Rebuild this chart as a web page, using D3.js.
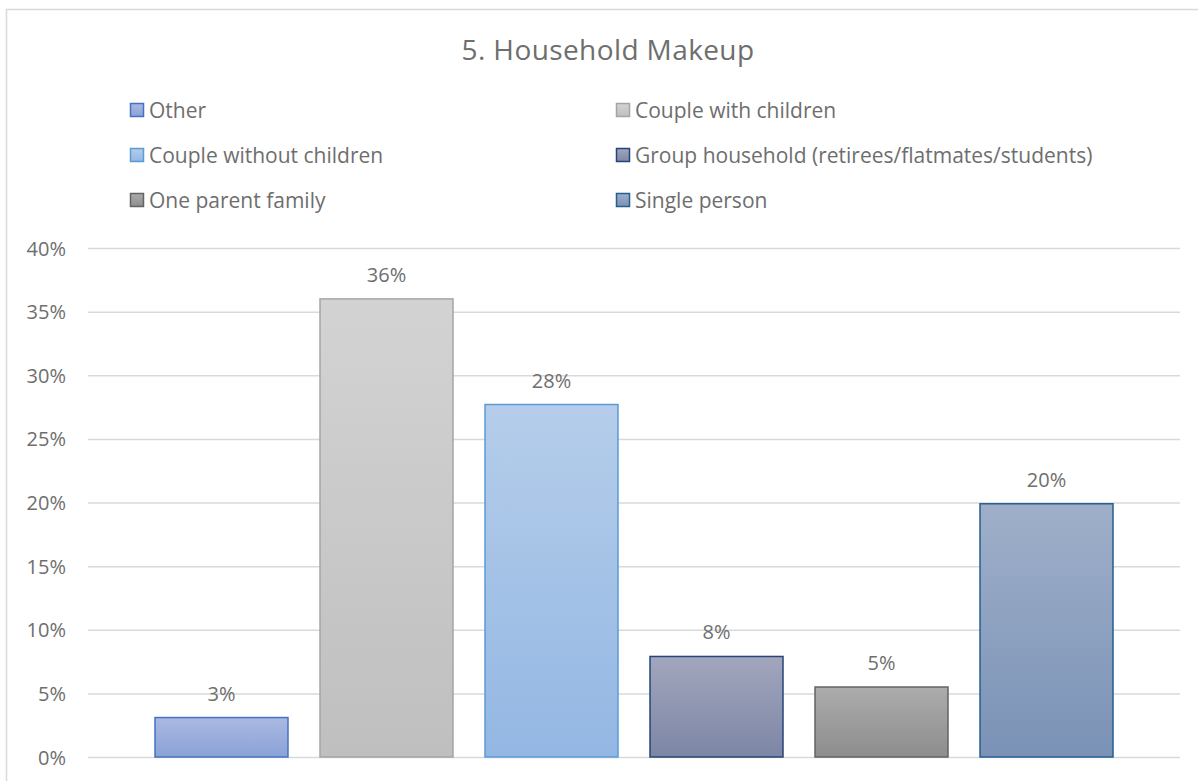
<!DOCTYPE html>
<html>
<head>
<meta charset="utf-8">
<script src="https://cdn.jsdelivr.net/npm/d3@7"></script>
<style>
  html, body { margin: 0; padding: 0; background: #fff; }
  svg { display: block; font-family: "Open Sans", Lato, sans-serif; }
</style>
</head>
<body>
<svg id="chart" width="1198" height="781"></svg>
<script>
// Household makeup shares (%)
const categories = ["Other", "Couple with children", "Couple without children",
  "Group household (retirees/flatmates/students)", "One parent family", "Single person"];
const values = [3.1, 36.0, 27.7, 7.9, 5.5, 19.9];
const valueLabels = ["3%", "36%", "28%", "8%", "5%", "20%"];
const yTicks = [0, 5, 10, 15, 20, 25, 30, 35, 40];

// Fill gradient (top, bottom) and outline per series
const fillTop = ["#abb9e2", "#d3d3d3", "#b5cdea", "#a2a6bd", "#acacac", "#9fafc9"];
const fillBottom = ["#8aa2d6", "#bfbfbf", "#93b7e3", "#7c86a5", "#8d8d8d", "#7a92b6"];
const strokes = ["#4472c4", "#a5a5a5", "#5b9bd5", "#264478", "#636363", "#255e91"];

const textColor = "#6e6e6e";
const svg = d3.select("#chart");
const W = 1198, H = 781;

// Chart area frame
svg.append("rect")
  .attr("x", 6.5).attr("y", 9.5).attr("width", W + 10).attr("height", H + 10)
  .attr("fill", "#fff").attr("stroke", "#d9d9d9").attr("stroke-width", 1.5);

const x0 = 88, x1 = 1180, yBottom = 757, yTop = 248;

const y = d3.scaleLinear().domain([0, 40]).range([yBottom, yTop]);
const x = d3.scaleBand().domain(categories).range([x0, x1])
  .paddingInner(0.194).paddingOuter(0.406);

// Gradients
const defs = svg.append("defs");
categories.forEach((c, i) => {
  const g = defs.append("linearGradient").attr("id", "grad" + i)
    .attr("x1", 0).attr("y1", 0).attr("x2", 0).attr("y2", 1);
  g.append("stop").attr("offset", "0%").attr("stop-color", fillTop[i]);
  g.append("stop").attr("offset", "100%").attr("stop-color", fillBottom[i]);
});

// Title
svg.append("text")
  .attr("x", 608).attr("y", 60)
  .attr("text-anchor", "middle")
  .attr("font-size", 28).attr("fill", textColor)
  .attr("letter-spacing", 0.4)
  .text("5. Household Makeup");

// Legend (two columns, three rows)
const legendX = [130, 616], legendY = [110, 155, 200];
const legend = svg.append("g");
categories.forEach((c, i) => {
  const col = i % 2, row = Math.floor(i / 2);
  const g = legend.append("g").attr("transform", `translate(${legendX[col]},${legendY[row]})`);
  g.append("rect").attr("x", 0.5).attr("y", -6.5).attr("width", 13).attr("height", 13)
    .attr("fill", `url(#grad${i})`).attr("stroke", strokes[i]).attr("stroke-width", 1.5);
  g.append("text").attr("x", 19).attr("y", 7.5)
    .attr("font-size", 21).attr("fill", textColor).text(c);
});

// Gridlines and y tick labels
const yAxis = d3.axisLeft(y).tickValues(yTicks).tickSize(-(x1 - x0)).tickFormat(d => d + "%");
const ga = svg.append("g").attr("transform", `translate(${x0},0)`).call(yAxis);
ga.select(".domain").remove();
ga.selectAll(".tick line").attr("stroke", "#d9d9d9").attr("stroke-width", 1.5);
ga.selectAll(".tick text")
  .attr("x", -22).attr("dy", "0.35em")
  .attr("font-size", 20).attr("fill", textColor)
  .style("font-family", "'Open Sans', Lato, sans-serif");

// Bars
svg.append("g").selectAll("rect").data(values).join("rect")
  .attr("x", (d, i) => x(categories[i]))
  .attr("y", d => y(d))
  .attr("width", x.bandwidth())
  .attr("height", d => y(0) - y(d))
  .attr("fill", (d, i) => `url(#grad${i})`)
  .attr("stroke", (d, i) => strokes[i])
  .attr("stroke-width", 1.5);

// Value labels
svg.append("g").selectAll("text").data(values).join("text")
  .attr("x", (d, i) => x(categories[i]) + x.bandwidth() / 2)
  .attr("y", d => y(d) - 17)
  .attr("text-anchor", "middle")
  .attr("font-size", 20).attr("fill", textColor)
  .text((d, i) => valueLabels[i]);
</script>
</body>
</html>
